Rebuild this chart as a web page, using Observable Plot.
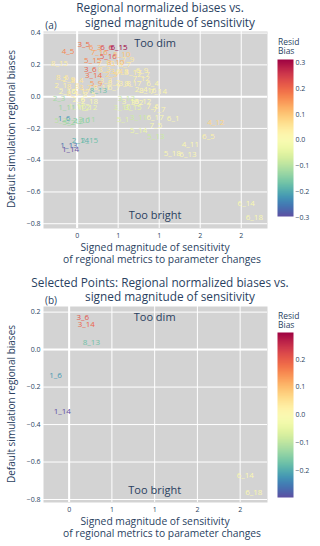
<!DOCTYPE html>
<html><head><meta charset="utf-8">
<script src="https://cdn.jsdelivr.net/npm/d3@7"></script>
<script src="https://cdn.jsdelivr.net/npm/@observablehq/plot@0.6"></script>
<style>
body{margin:0;width:320px;height:546px;position:relative;background:#fff;font-family:"Open Sans",sans-serif;color:#2a3f5f;overflow:hidden}
.t{position:absolute;white-space:nowrap;transform:translate(-50%,-50%);line-height:1}
.l{position:absolute;white-space:nowrap;line-height:1}
svg{position:absolute;left:0}
</style></head><body>
<script>
// ---- data ----
const labels = ["3_5","4_5","6_3","6_6","6_15","7_16","5_16","5_10","7_9","8_15","5_15","8_10","7_10","8_7",
"3_6","3_14","8_3","3_4","6_8","6_9","2_5","3_17","2_7","7_12","8_6","2_9","8_4","5_9","3_3","8_2","3_8","8_17","6_4",
"2_1","8_8","3_7","8_11","6_7","2_17","8_13","2_4","8_16","7_14","8_1","8_5","2_16",
"2_3","2_18","2_6","3_13","3_16","3_12","3_2","7_6","7_7","1_11","1_16","1_2","1_12","3_10","3_15",
"1_6","5_3","5_2","2_12","2_10","2_11","5_1","3_11","6_17","6_1","7_5","5_14","5_13","2_14","2_15","1_13","1_14",
"4_12","6_5","4_11","5_18","6_13","6_14","6_18"];
const sensitivity = [0.08,-0.11,0.22,0.36,0.51,0.27,0.38,0.545,0.62,-0.215,0.19,0.47,0.35,0.58,
0.16,0.20,0.33,0.48,0.55,0.79,0.42,0.68,0.81,0.78,-0.18,-0.1,0.0,0.23,0.35,0.45,0.58,0.68,0.92,
-0.2,-0.05,0.1,0.3,0.45,0.05,0.26,0.78,0.86,0.99,-0.05,0.15,-0.12,
-0.22,0.15,0.02,0.6,0.65,0.8,0.73,0.92,1.0,-0.125,0.0,0.08,0.14,0.55,0.68,
-0.16,-0.2,-0.1,-0.03,0.05,0.12,0.56,0.75,0.95,1.17,0.96,0.75,0.96,0.04,0.15,-0.1,-0.08,
1.69,1.6,1.38,1.16,1.35,2.06,2.16];
const regionalBias = [0.33,0.287,0.31,0.31,0.31,0.28,0.255,0.265,0.235,0.21,0.228,0.215,0.21,0.205,
0.17,0.135,0.17,0.16,0.16,0.165,0.14,0.15,0.14,0.115,0.12,0.11,0.10,0.084,0.1,0.09,0.08,0.08,0.08,
0.07,0.065,0.06,0.055,0.06,0.035,0.04,0.045,0.04,0.03,0.02,0.015,0.03,
-0.01,-0.03,-0.02,-0.01,-0.03,-0.03,-0.035,-0.06,-0.08,-0.065,-0.06,-0.065,-0.07,-0.065,-0.07,
-0.14,-0.15,-0.16,-0.155,-0.15,-0.145,-0.143,-0.13,-0.13,-0.135,-0.18,-0.21,-0.252,-0.273,-0.273,-0.31,-0.33,
-0.164,-0.252,-0.30,-0.36,-0.365,-0.67,-0.76];
const residBias = [0.20,0.17,0.15,0.24,0.314,0.14,0.22,0.10,0.05,0.04,0.17,0.12,0.06,0.05,
0.21,0.19,0.06,0.07,0.04,0.03,0.08,0.04,0.03,0.03,0.05,0.04,0.06,0.15,0.05,0.04,0.03,0.03,0.02,
0.03,0.05,0.07,0.03,0.02,0.04,-0.17,0.02,0.02,0.02,0.06,0.03,0.0,
-0.12,0.0,0.02,-0.08,0.0,0.01,0.0,0.02,0.02,-0.13,-0.05,-0.04,-0.03,-0.06,-0.04,
-0.22,-0.1,-0.12,-0.13,-0.15,-0.12,-0.05,-0.08,0.0,0.01,0.0,-0.03,-0.08,-0.19,-0.17,-0.26,-0.297,
0.08,0.03,0.01,0.01,0.01,0.0,0.0];
const selectedLabels = ["3_6","3_14","8_13","1_6","1_14","6_14","6_18"];
const xTicks = [0,0.5,1,1.5,2];
const yTicks = [-0.8,-0.6,-0.4,-0.2,0,0.2,0.4];
const cbTicksA = [-0.3,-0.2,-0.1,0,0.1,0.2,0.3];
const cbTicksB = [-0.2,-0.1,0,0.1,0.2];
const notes = ["Too dim","Too bright"];
const noteX = [0.95,0.95];
const noteYA = [0.337,-0.745];
const noteXB = [1.0,1.0];
const noteYB = [0.17,-0.75];

const rows = labels.map((d,i)=>({label:d,x:sensitivity[i],y:regionalBias[i],c:residBias[i]}));
const selRows = rows.filter(r=>selectedLabels.includes(r.label));

const FONT = '"Open Sans", sans-serif';
function scatter(data, opt){
  return Plot.plot({
    width:320, height:opt.height,
    marginLeft:43, marginRight:53, marginTop:opt.mt, marginBottom:opt.mb,
    style:{fontFamily:FONT,fontSize:"7px",color:"#2a3f5f",background:"transparent"},
    x:{domain:opt.xd, label:null},
    y:{domain:opt.yd, label:null},
    color:{type:"linear",scheme:"spectral",reverse:true,domain:opt.cd},
    marks:[
      Plot.frame({fill:"#d3d3d3",stroke:null}),
      Plot.gridX(xTicks,{stroke:"white",strokeOpacity:1,strokeWidth:1}),
      Plot.gridY(yTicks.filter(v=>v>=opt.yd[0]&&v<=opt.yd[1]),{stroke:"white",strokeOpacity:1,strokeWidth:1}),
      Plot.ruleX([0],{stroke:"white",strokeWidth:2}),
      Plot.ruleY([0],{stroke:"white",strokeWidth:2}),
      Plot.text(data,{x:"x",y:"y",text:"label",fill:"c",fontSize:8}),
      Plot.text(notes,{x:(d,i)=>opt.nx[i],y:(d,i)=>opt.ny[i],text:d=>d,fill:"#2a3f5f",fontSize:11}),
      Plot.axisX(xTicks,{tickSize:0,tickPadding:5,fill:"#2a3f5f",fontSize:7}),
      Plot.axisY(yTicks.filter(v=>v>=opt.yd[0]&&v<=opt.yd[1]),{tickSize:0,tickPadding:3,fill:"#2a3f5f",fontSize:7})
    ]
  });
}
function colorbar(domain, ticks, h){
  return Plot.plot({
    width:40,height:h+10,marginLeft:0,marginRight:24,marginTop:5,marginBottom:5,
    style:{fontFamily:FONT,fontSize:"7px",color:"#2a3f5f",background:"transparent"},
    x:{domain:[0,1],axis:null},
    y:{domain:domain,label:null},
    color:{type:"linear",scheme:"spectral",reverse:true,domain:domain},
    marks:[
      Plot.raster({x1:0,x2:1,y1:domain[0],y2:domain[1],width:1,height:200,fill:(x,y)=>y,imageRendering:"auto"}),
      Plot.axisY(ticks,{anchor:"right",tickSize:0,tickPadding:2,fill:"#2a3f5f",fontSize:7})
    ]
  });
}
function place(el, left, top){el.style.position="absolute";el.style.left=left+"px";el.style.top=top+"px";document.body.appendChild(el);}
function txt(s, x, y, size, cls="t", extra=""){
  const d=document.createElement("div");d.className=cls;d.textContent=s;
  d.style.left=x+"px";d.style.top=y+"px";d.style.fontSize=size+"px";
  if(extra) d.style.cssText+=extra;
  document.body.appendChild(d);return d;
}

// panel (a)
place(scatter(rows,{height:270,mt:31,mb:42,xd:[-0.41,2.32],yd:[-0.83,0.41],cd:[-0.297,0.314],nx:noteX,ny:noteYA}),0,0);
place(colorbar([-0.297,0.314],cbTicksA,157),277,54);
txt("Regional normalized biases vs.",160,8,11.8);
txt("signed magnitude of sensitivity",170,23,11.8);
txt("(a)",51,25,10);
txt("Resid",278,38,8.5,"l");
txt("Bias",278,47,8.5,"l");
txt("Signed magnitude of sensitivity",155,247,10.3);
txt("of regional metrics to parameter changes",162,259,10.3);
txt("Default simulation regional biases",11,129,10,"t","transform:translate(-50%,-50%) rotate(-90deg)");

// panel (b)
place(scatter(selRows,{height:276,mt:36,mb:44,xd:[-0.30,2.32],yd:[-0.816,0.23],cd:[-0.297,0.297],nx:noteXB,ny:noteYB}),0,270);
place(colorbar([-0.297,0.297],cbTicksB,165),277,327);
txt("Selected Points: Regional normalized biases vs.",160,283,11.8);
txt("signed magnitude of sensitivity",170,297,11.8);
txt("(b)",51,300,10);
txt("Resid",278,312,8.5,"l");
txt("Bias",278,321,8.5,"l");
txt("Signed magnitude of sensitivity",155,521,10.3);
txt("of regional metrics to parameter changes",162,533,10.3);
txt("Default simulation regional biases",11,404,10,"t","transform:translate(-50%,-50%) rotate(-90deg)");
</script>
</body></html>
